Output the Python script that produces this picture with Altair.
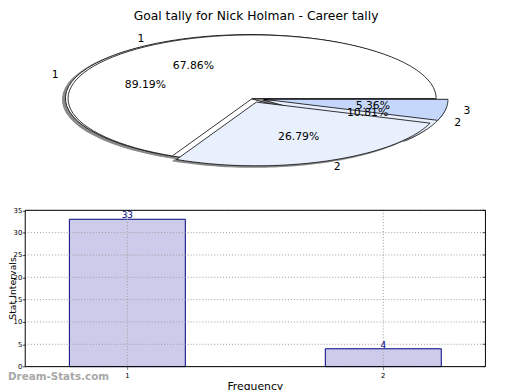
import altair as alt
import pandas as pd

# ---------------- data ----------------
chart_title = ["Goal tally for Nick Holman - Career tally"]
watermark = ["Dream-Stats.com"]
y_title = ["Stat Intervals"]
x_title = ["Frequency"]

pieA_labels = ["1", "2", "3"]
pieA_values = [38, 15, 3]
pieB_labels = ["1", "2"]
pieB_values = [33, 4]

bar_categories = ["1", "2"]
bar_values = [33, 4]
y_ticks = [0, 5, 10, 15, 20, 25, 30, 35]

# ---------------- style ----------------
pieA_explode = [0.0, 0.06, 0.065]
pieB_explode = [0.015, 0.065]
slice_colors = ["#ffffff", "#e9f0fd", "#c5d8fb"]
FONT = "DejaVu Sans"
N = 72  # arc resolution

slices = pd.DataFrame({
    "pie": ["A"] * len(pieA_labels) + ["B"] * len(pieB_labels),
    "label": pieA_labels + pieB_labels,
    "value": pieA_values + pieB_values,
    "pos": list(range(len(pieA_labels))) + list(range(len(pieB_labels))),
    "explode": pieA_explode + pieB_explode,
})

# pie geometry (chart pixel space)
xs = alt.Scale(domain=[-1, 1], range=[61, 435])
ys = alt.Scale(domain=[-1, 1], range=[153.7, 24.3])
cs = alt.Scale(domain=["1", "2", "3"], range=slice_colors)


def pie_base(name):
    return (
        alt.Chart(slices)
        .transform_filter(alt.datum.pie == name)
        .transform_joinaggregate(total="sum(value)")
        .transform_window(cum="sum(value)", sort=[alt.SortField("pos")], frame=[None, 0])
        .transform_calculate(a0="2*PI*(datum.cum - datum.value)/datum.total")
        .transform_calculate(a1="2*PI*datum.cum/datum.total")
        .transform_calculate(mid="(datum.a0 + datum.a1)/2")
        .transform_calculate(pct="format(100*datum.value/datum.total, '.2f') + '%'")
        .transform_calculate(ex="datum.explode*cos(datum.mid)")
        .transform_calculate(ey="datum.explode*sin(datum.mid)")
    )


def pie_poly(name, shadow=False):
    dx, dy = (-0.015, -0.02) if shadow else (0, 0)
    base = (
        pie_base(name)
        .transform_calculate(idx=f"sequence(0, {N + 3})")
        .transform_flatten(["idx"])
        .transform_calculate(t=f"clamp((datum.idx - 1)/{N}, 0, 1)")
        .transform_calculate(rr=f"(datum.idx == 0 || datum.idx == {N + 2}) ? 0 : 1")
        .transform_calculate(ang="datum.a0 + (datum.a1 - datum.a0)*datum.t")
        .transform_calculate(px=f"datum.ex + datum.rr*cos(datum.ang) + ({dx})")
        .transform_calculate(py=f"datum.ey + datum.rr*sin(datum.ang) + ({dy})")
    )
    if shadow:
        mark = base.mark_line(filled=True, color="#8a8a8a", stroke="#8a8a8a", strokeWidth=1.5)
        enc = dict()
    else:
        mark = base.mark_line(filled=True, stroke="black", strokeWidth=0.8)
        enc = dict(color=alt.Color("label:N", scale=cs, legend=None))
    return mark.encode(
        x=alt.X("px:Q", scale=xs, axis=None),
        y=alt.Y("py:Q", scale=ys, axis=None),
        order="idx:Q",
        detail="label:N",
        **enc,
    )


def pie_pct(name):
    return (
        pie_base(name)
        .transform_calculate(tx="(0.6 + datum.explode)*cos(datum.mid)")
        .transform_calculate(ty="(0.6 + datum.explode)*sin(datum.mid)")
        .mark_text(font=FONT, fontSize=11, color="black", align="center", baseline="middle")
        .encode(x=alt.X("tx:Q", scale=xs, axis=None), y=alt.Y("ty:Q", scale=ys, axis=None), text="pct:N")
    )


def pie_lbl(name, right):
    cond = "cos(datum.mid) > 0" if right else "cos(datum.mid) <= 0"
    return (
        pie_base(name)
        .transform_filter(cond)
        .transform_calculate(tx="(1.1 + datum.explode)*cos(datum.mid)")
        .transform_calculate(ty="(1.1 + datum.explode)*sin(datum.mid)")
        .mark_text(font=FONT, fontSize=11, color="black",
                   align="left" if right else "right", baseline="middle")
        .encode(x=alt.X("tx:Q", scale=xs, axis=None), y=alt.Y("ty:Q", scale=ys, axis=None), text="label:N")
    )


pie_layer = alt.layer(
    pie_poly("B", True), pie_poly("A", True),
    pie_poly("B"), pie_poly("A"),
    pie_pct("A"), pie_pct("B"),
    pie_lbl("A", True), pie_lbl("A", False), pie_lbl("B", True), pie_lbl("B", False),
)

# ---------------- bar chart ----------------
bars = pd.DataFrame({"cat": bar_categories, "count": bar_values})
ticks = pd.DataFrame({"v": y_ticks})
PL, PR, PT, PB = 17.5, 485, 202.5, 361.3
W, H = 512, 382

xb = alt.X(
    "cat:N",
    sort=bar_categories,
    scale=alt.Scale(range=[PL, PR], paddingInner=0.547, paddingOuter=0.1725),
    axis=alt.Axis(orient="bottom", offset=-(H - PB), title=None, labelAngle=0,
                  labelFont=FONT, labelFontSize=7, labelColor="black", labelPadding=2,
                  tickSize=3, tickColor="#888", domain=False, bandPosition=0.5, grid=False),
)
yb = alt.Y(
    "count:Q",
    scale=alt.Scale(domain=[0, 35], range=[PB, PT], nice=False),
    axis=alt.Axis(orient="left", offset=-PL, title=None, values=y_ticks,
                  labelFont=FONT, labelFontSize=7, labelColor="black", labelPadding=0.5,
                  tickSize=3, tickColor="#444", domain=False, grid=False),
)

ygrid = alt.Chart(ticks).mark_rule(strokeDash=[1, 2], color="#9a9a9a", strokeWidth=1).encode(
    y=alt.Y("v:Q"), x=alt.value(PL), x2=alt.value(PR))
yticks_right = alt.Chart(ticks).mark_rule(color="#555", strokeWidth=1).encode(
    y=alt.Y("v:Q"), x=alt.value(PR - 3), x2=alt.value(PR))
bar_marks = alt.Chart(bars).mark_bar(fill="#ccccea", stroke="#000080", strokeWidth=1).encode(x=xb, y=yb)
xgrid = alt.Chart(bars).mark_rule(strokeDash=[1, 2], color="#9a9a9a", strokeWidth=1).encode(
    x=alt.X("cat:N", sort=bar_categories), y=alt.value(PT), y2=alt.value(PB))
bar_text = alt.Chart(bars).mark_text(font=FONT, fontSize=9, color="#000080", baseline="alphabetic", dy=-1).encode(
    x=alt.X("cat:N", sort=bar_categories), y="count:Q", text="count:Q")
frame = alt.Chart(bars.head(1)).mark_rect(fillOpacity=0, stroke="black", strokeWidth=1).encode(
    x=alt.value(PL), x2=alt.value(PR), y=alt.value(PT), y2=alt.value(PB))
bar_layer = alt.layer(bar_marks, ygrid, xgrid, yticks_right, bar_text, frame)

# ---------------- free texts ----------------
def txt(values, x, y, **kw):
    return alt.Chart(pd.DataFrame({"t": values})).mark_text(font=FONT, **kw).encode(
        text="t:N", x=alt.value(x), y=alt.value(y))

texts = alt.layer(
    txt(chart_title, 252, 9, fontSize=12.5, align="center", baseline="alphabetic", color="black"),
    txt(y_title, 8.6, (PT + PB) / 2, fontSize=9.5, angle=270, align="center", baseline="alphabetic", color="black"),
    txt(x_title, (PL + PR) / 2, 385, fontSize=11, align="center", baseline="alphabetic", color="black"),
    txt(watermark, 0, 375, fontSize=10.5, fontWeight="bold", align="left", baseline="alphabetic", color="#a8a8a8"),
)

chart = (
    alt.layer(pie_layer, bar_layer, texts)
    .resolve_scale(x="independent", y="independent", color="independent")
    .properties(width=W, height=H, autosize="none", padding=0, background="white")
    .configure_view(stroke=None)
)

chart.save("out.html", embed_options={"renderer": "svg", "actions": False})
